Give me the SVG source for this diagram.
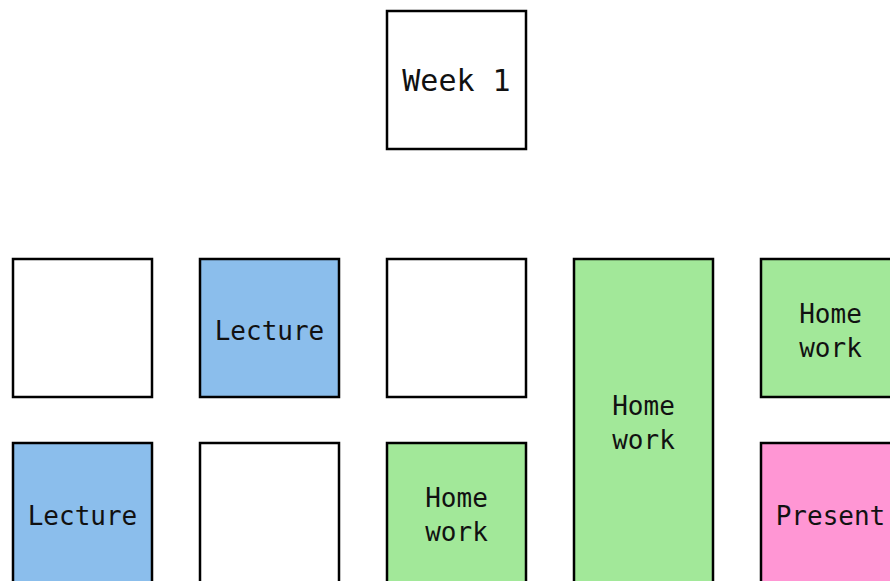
<svg xmlns="http://www.w3.org/2000/svg" width="890" height="581" viewBox="0 0 890 581">
<style>
rect{stroke:#000;stroke-width:2.5}
.w{fill:#fff}.b{fill:#8bbeec}.g{fill:#a2e899}.p{fill:#ff96d4}
text{font-family:"DejaVu Sans Mono",monospace;font-size:26px;fill:#111;text-anchor:middle}
.big{font-size:30px}
</style>
<rect x="0" y="0" width="890" height="581" style="fill:#fff;stroke:none"/>
<g id="week1"><rect class="w" x="387" y="11" width="139" height="138"/><text class="big" x="456.5" y="91">Week 1</text></g>
<g id="r1c1"><rect class="w" x="13" y="259" width="139" height="138"/></g>
<g id="r1c2"><rect class="b" x="200" y="259" width="139" height="138"/><text x="269.5" y="340">Lecture</text></g>
<g id="r1c3"><rect class="w" x="387" y="259" width="139" height="138"/></g>
<g id="tall"><rect class="g" x="574" y="259" width="139" height="326"/><text x="643.5" y="415">Home</text><text x="643.5" y="449">work</text></g>
<g id="r1c5"><rect class="g" x="761" y="259" width="139" height="138"/><text x="830.5" y="323">Home</text><text x="830.5" y="357">work</text></g>
<g id="r2c1"><rect class="b" x="13" y="443" width="139" height="142"/><text x="82.5" y="525">Lecture</text></g>
<g id="r2c2"><rect class="w" x="200" y="443" width="139" height="142"/></g>
<g id="r2c3"><rect class="g" x="387" y="443" width="139" height="142"/><text x="456.5" y="507">Home</text><text x="456.5" y="541">work</text></g>
<g id="r2c5"><rect class="p" x="761" y="443" width="139" height="142"/><text x="830.5" y="525">Present</text></g>
<g id="connectors"></g>
</svg>
